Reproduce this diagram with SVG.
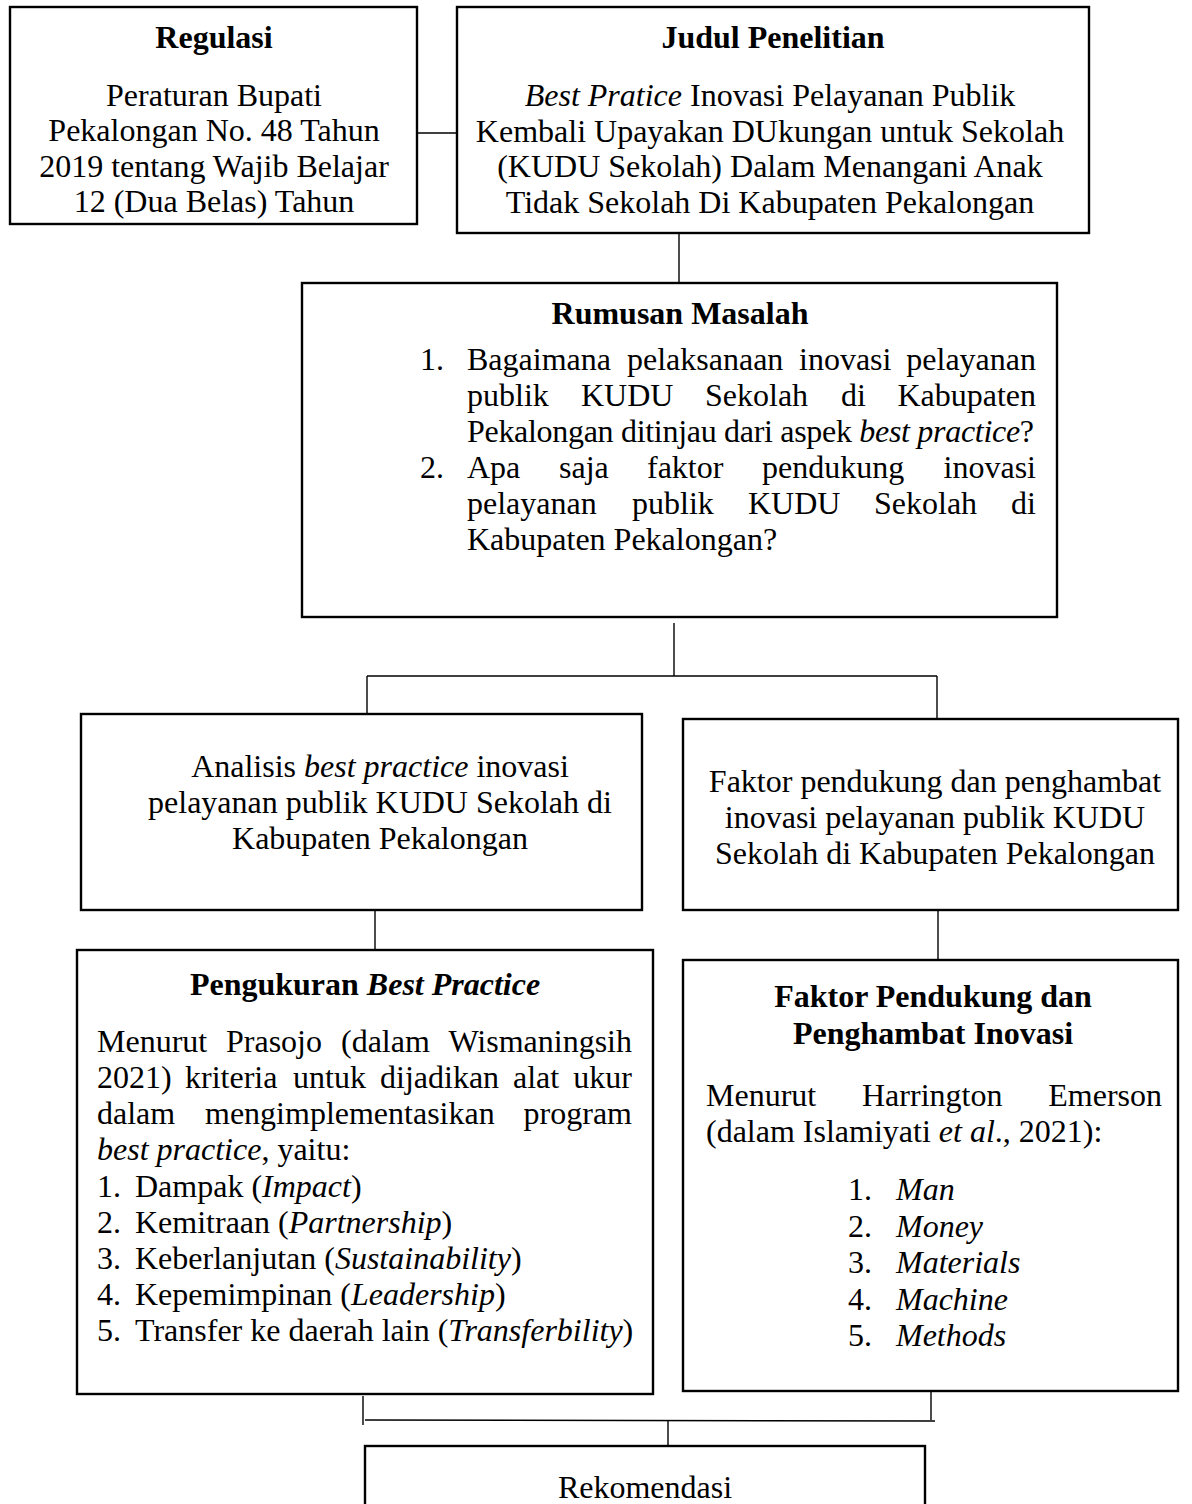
<svg xmlns="http://www.w3.org/2000/svg" width="1192" height="1504" viewBox="0 0 1192 1504">
<style>
.box{fill:#fff;stroke:#000;stroke-width:2.4}
.con{fill:none;stroke:#000;stroke-width:1.4}
text{font-family:"Liberation Serif","Times New Roman",serif;font-size:32px;fill:#000}
.b{font-weight:bold}
.c{text-anchor:middle}
.e{text-anchor:end}
.i{font-style:italic}
</style>
<rect width="1192" height="1504" fill="#fff"/>
<g id="connectors">
<line class="con" x1="417" y1="133" x2="457" y2="133"/>
<line class="con" x1="679" y1="233" x2="679" y2="283"/>
<line class="con" x1="674" y1="623" x2="674" y2="676"/>
<line class="con" x1="367" y1="676" x2="937" y2="676"/>
<line class="con" x1="367" y1="676" x2="367" y2="716"/>
<line class="con" x1="937" y1="676" x2="937" y2="719"/>
<line class="con" x1="375" y1="910" x2="375" y2="950"/>
<line class="con" x1="938" y1="910" x2="938" y2="960"/>
<line class="con" x1="363" y1="1396" x2="363" y2="1425"/>
<line class="con" x1="365" y1="1420" x2="935" y2="1421"/>
<line class="con" x1="931" y1="1391" x2="931" y2="1420"/>
<line class="con" x1="668" y1="1421" x2="668" y2="1446"/>
</g>
<g id="regulasi">
<rect class="box" x="10" y="7" width="407" height="217"/>
<text class="b c" x="214" y="48">Regulasi</text>
<text class="c" x="214" y="106">Peraturan Bupati</text>
<text class="c" x="214" y="141">Pekalongan No. 48 Tahun</text>
<text class="c" x="214" y="177">2019 tentang Wajib Belajar</text>
<text class="c" x="214" y="212">12 (Dua Belas) Tahun</text>
</g>
<g id="judul">
<rect class="box" x="457" y="7" width="632" height="226"/>
<text class="b c" x="773" y="48">Judul Penelitian</text>
<text class="c" x="770" y="106"><tspan class="i">Best Pratice</tspan> Inovasi Pelayanan Publik</text>
<text class="c" x="770" y="142">Kembali Upayakan DUkungan untuk Sekolah</text>
<text class="c" x="770" y="177">(KUDU Sekolah) Dalam Menangani Anak</text>
<text class="c" x="770" y="213">Tidak Sekolah Di Kabupaten Pekalongan</text>
</g>
<g id="rumusan">
<rect class="box" x="302" y="283" width="755" height="334"/>
<text class="b c" x="680" y="324">Rumusan Masalah</text>
<text x="420" y="370">1.</text>
<text x="467" y="370">Bagaimana</text>
<text x="627" y="370">pelaksanaan</text>
<text x="799" y="370">inovasi</text>
<text class="e" x="1036" y="370">pelayanan</text>
<text x="467" y="406">publik</text>
<text x="581" y="406">KUDU</text>
<text x="705" y="406">Sekolah</text>
<text x="841" y="406">di</text>
<text class="e" x="1036" y="406">Kabupaten</text>
<text x="467" y="442" textLength="567" lengthAdjust="spacing">Pekalongan ditinjau dari aspek <tspan class="i">best practice</tspan>?</text>
<text x="420" y="478">2.</text>
<text x="467" y="478">Apa</text>
<text x="559" y="478">saja</text>
<text x="647" y="478">faktor</text>
<text x="762" y="478">pendukung</text>
<text class="e" x="1036" y="478">inovasi</text>
<text x="467" y="514">pelayanan</text>
<text x="632" y="514">publik</text>
<text x="748" y="514">KUDU</text>
<text x="874" y="514">Sekolah</text>
<text class="e" x="1036" y="514">di</text>
<text x="467" y="550">Kabupaten Pekalongan?</text>
</g>
<g id="analisis">
<rect class="box" x="81" y="714" width="561" height="196"/>
<text class="c" x="380" y="777">Analisis <tspan class="i">best practice</tspan> inovasi</text>
<text class="c" x="380" y="813">pelayanan publik KUDU Sekolah di</text>
<text class="c" x="380" y="849">Kabupaten Pekalongan</text>
</g>
<g id="faktor">
<rect class="box" x="683" y="719" width="495" height="191"/>
<text class="c" x="935" y="792">Faktor pendukung dan penghambat</text>
<text class="c" x="935" y="828">inovasi pelayanan publik KUDU</text>
<text class="c" x="935" y="864">Sekolah di Kabupaten Pekalongan</text>
</g>
<g id="pengukuran">
<rect class="box" x="77" y="950" width="576" height="444"/>
<text class="b c" x="365" y="995">Pengukuran <tspan class="i">Best Practice</tspan></text>
<text x="97" y="1052">Menurut</text>
<text x="226" y="1052">Prasojo</text>
<text x="341" y="1052">(dalam</text>
<text class="e" x="632" y="1052">Wismaningsih</text>
<text x="97" y="1088">2021)</text>
<text x="185" y="1088">kriteria</text>
<text x="293" y="1088">untuk</text>
<text x="380" y="1088">dijadikan</text>
<text x="513" y="1088">alat</text>
<text class="e" x="632" y="1088">ukur</text>
<text x="97" y="1124">dalam</text>
<text x="205" y="1124">mengimplementasikan</text>
<text class="e" x="632" y="1124">program</text>
<text x="97" y="1160"><tspan class="i">best practice</tspan>, yaitu:</text>
<text x="97" y="1197">1.</text><text x="135" y="1197">Dampak (<tspan class="i">Impact</tspan>)</text>
<text x="97" y="1233">2.</text><text x="135" y="1233">Kemitraan (<tspan class="i">Partnership</tspan>)</text>
<text x="97" y="1269">3.</text><text x="135" y="1269">Keberlanjutan (<tspan class="i">Sustainability</tspan>)</text>
<text x="97" y="1305">4.</text><text x="135" y="1305">Kepemimpinan (<tspan class="i">Leadership</tspan>)</text>
<text x="97" y="1341">5.</text><text x="135" y="1341">Transfer ke daerah lain (<tspan class="i">Transferbility</tspan>)</text>
</g>
<g id="faktor-pendukung">
<rect class="box" x="683" y="960" width="495" height="431"/>
<text class="b c" x="933" y="1007">Faktor Pendukung dan</text>
<text class="b c" x="933" y="1044">Penghambat Inovasi</text>
<text x="706" y="1106">Menurut</text>
<text x="862" y="1106">Harrington</text>
<text class="e" x="1162" y="1106">Emerson</text>
<text x="706" y="1142">(dalam Islamiyati <tspan class="i">et al</tspan>., 2021):</text>
<text x="848" y="1200">1.</text><text class="i" x="896" y="1200">Man</text>
<text x="848" y="1237">2.</text><text class="i" x="896" y="1237">Money</text>
<text x="848" y="1273">3.</text><text class="i" x="896" y="1273">Materials</text>
<text x="848" y="1310">4.</text><text class="i" x="896" y="1310">Machine</text>
<text x="848" y="1346">5.</text><text class="i" x="896" y="1346">Methods</text>
</g>
<g id="rekomendasi">
<rect class="box" x="365" y="1446" width="560" height="80"/>
<text class="c" x="645" y="1498">Rekomendasi</text>
</g>
</svg>
